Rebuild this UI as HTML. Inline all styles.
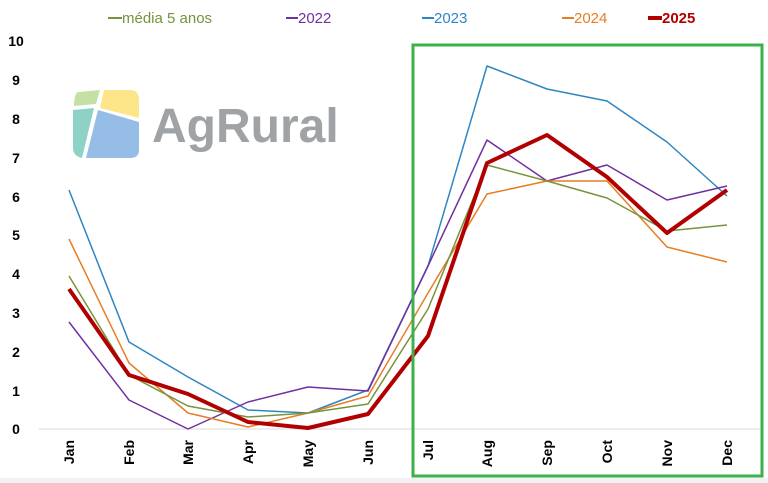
<!DOCTYPE html>
<html><head><meta charset="utf-8"><style>
html,body{margin:0;padding:0;background:#fff;}
svg{display:block;font-family:"Liberation Sans",Arial,sans-serif;}
</style></head><body>
<svg width="768" height="483" viewBox="0 0 768 483">
<rect x="0" y="0" width="768" height="483" fill="#fff"/>
<rect x="0" y="478" width="768" height="5" fill="#f2f2f2"/>
<!-- legend -->
<g font-size="15">
<line x1="108" y1="18" x2="122" y2="18" stroke="#77933c" stroke-width="2"/>
<text x="122" y="23" fill="#77933c">média 5 anos</text>
<line x1="286" y1="18" x2="298" y2="18" stroke="#7030a0" stroke-width="2"/>
<text x="298" y="23" fill="#7030a0">2022</text>
<line x1="272" y1="0" x2="272" y2="0"/>
<line x1="422" y1="18" x2="434" y2="18" stroke="#2e86c1" stroke-width="2"/>
<text x="434" y="23" fill="#2e86c1">2023</text>
<line x1="562" y1="18" x2="574" y2="18" stroke="#e67e22" stroke-width="2"/>
<text x="574" y="23" fill="#e67e22">2024</text>
<line x1="648" y1="18" x2="662" y2="18" stroke="#b20000" stroke-width="4"/>
<text x="662" y="23" fill="#b20000" font-weight="bold">2025</text>
</g>
<!-- y axis labels -->
<g font-size="14" font-weight="bold" fill="#000" text-anchor="middle">
<text x="16" y="46">10</text><text x="16" y="85">9</text><text x="16" y="124">8</text>
<text x="16" y="163">7</text><text x="16" y="202">6</text><text x="16" y="240">5</text>
<text x="16" y="279">4</text><text x="16" y="318">3</text><text x="16" y="357">2</text>
<text x="16" y="396">1</text><text x="16" y="434">0</text>
</g>
<line x1="39" y1="429" x2="760" y2="429" stroke="#d9d9d9" stroke-width="1"/>
<!-- logo -->
<g>
<path d="M78 92 L100 90 L96 104 L74 106 Q74 94 78 92Z" fill="#c5e0a5"/>
<path d="M104 90 L130 90 Q139 90 139 100 L139 118 L100 108Z" fill="#fde68a"/>
<path d="M73 110 L94 108 L82 158 Q73 156 73 148Z" fill="#8ed1c6"/>
<path d="M98 110 L139 122 L139 150 Q139 158 130 158 L86 158Z" fill="#95bde6"/>
<text x="152" y="142" font-size="48" font-weight="bold" fill="#9fa3a6">AgRural</text>
</g>
<!-- series -->
<g fill="none" stroke-linejoin="round">
<polyline stroke="#2e86c1" stroke-width="1.5" points="69,190 129,342 188,377 248,410 308,413 368,390 428,266 487,66 547,89 607,101 667,142 727,196"/>
<polyline stroke="#7030a0" stroke-width="1.5" points="69,322 129,400 188,429 248,402 308,387 368,391 428,266 487,140 547,181 607,165 667,200 727,186"/>
<polyline stroke="#e67e22" stroke-width="1.5" points="69,239 129,363 188,413 248,427 308,413 368,396 428,293 487,194 547,181 607,181 667,247 727,262"/>
<polyline stroke="#77933c" stroke-width="1.5" points="69,276 129,375 188,406 248,417 308,413 368,404 428,309 487,165 547,181 607,198 667,231 727,225"/>
<polyline stroke="#b20000" stroke-width="4" points="69,289 129,375 188,394 248,422 308,428 368,414 428,336 487,163 547,135 607,177 667,233 727,190"/>
</g>
<!-- x labels -->
<g font-size="14" font-weight="bold" fill="#000" text-anchor="end">
<text transform="translate(74,440) rotate(-90)">Jan</text>
<text transform="translate(134,440) rotate(-90)">Feb</text>
<text transform="translate(193,440) rotate(-90)">Mar</text>
<text transform="translate(253,440) rotate(-90)">Apr</text>
<text transform="translate(313,440) rotate(-90)">May</text>
<text transform="translate(373,440) rotate(-90)">Jun</text>
<text transform="translate(433,440) rotate(-90)">Jul</text>
<text transform="translate(492,440) rotate(-90)">Aug</text>
<text transform="translate(552,440) rotate(-90)">Sep</text>
<text transform="translate(612,440) rotate(-90)">Oct</text>
<text transform="translate(672,440) rotate(-90)">Nov</text>
<text transform="translate(732,440) rotate(-90)">Dec</text>
</g>
<rect x="413" y="45" width="349" height="431" fill="none" stroke="#3cb04a" stroke-width="3"/>
</svg>
</body></html>
